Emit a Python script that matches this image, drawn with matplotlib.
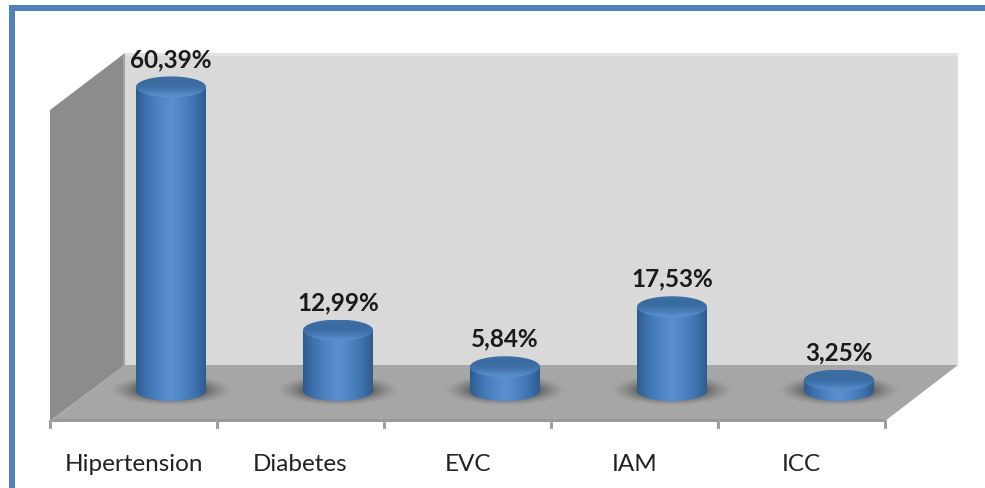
import numpy as np
import matplotlib
matplotlib.use("Agg")
import matplotlib.pyplot as plt
from matplotlib.patches import Polygon, Ellipse, PathPatch
from matplotlib.path import Path
from matplotlib.colors import LinearSegmentedColormap
from matplotlib.transforms import Affine2D

categories = ["Hipertension", "Diabetes", "EVC", "IAM", "ICC"]
values = [60.39, 12.99, 5.84, 17.53, 3.25]
value_labels = ["60,39%", "12,99%", "5,84%", "17,53%", "3,25%"]

W, H = 985, 489
# pixels per category / per percent
XSTEP = 167.0
YSCALE = 5.13
X0 = 171.0
Y0 = 397.7

plt.rcParams["font.family"] = ["Lato", "DejaVu Sans"]

fig = plt.figure(figsize=(W / 100, H / 100), dpi=100, facecolor="white")
ax = fig.add_axes([0, 0, 1, 1])
ax.set_axis_off()

# pixel coords, y going down, for the box around the plot
pix = Affine2D().scale(1, -1).translate(0, H)

def box(pts, color, z=1):
    ax.add_patch(Polygon(pts, closed=True, fc=color, ec="none", transform=pix, zorder=z))

# frame on the left and top
box([(9, 6), (985, 6), (985, 12), (15, 12), (15, 489), (9, 489)], "#4f81bd", 1)

# walls and floor
box([(125, 54), (958, 54), (958, 366), (125, 366)], "#d9d9d9")
box([(50, 111), (125, 54), (125, 366), (50, 422)], "#8c8c8c")
box([(125, 366), (958, 366), (885, 422), (50, 422)], "#a6a6a6")
box([(123, 56), (125, 54), (125, 366), (123, 368)], "#a3a3a3")
box([(125, 54), (958, 54), (958, 57), (125, 57)], "#e2e2e2")
box([(50, 420), (885, 420), (885, 423), (50, 423)], "#9a9a9a")

# tick marks under the floor
for k in range(len(categories) + 1):
    tx = 50 + XSTEP * k
    box([(tx - 1.5, 421), (tx + 1.5, 421), (tx + 1.5, 430), (tx - 1.5, 430)], "#a0a0a0")

side_cmap = LinearSegmentedColormap.from_list(
    "side", ["#2f5c8e", "#3f74b0", "#4f85c4", "#5a90cf", "#4f85c4", "#3f74b0", "#2f5c8e"])
top_cmap = LinearSegmentedColormap.from_list(
    "top", ["#5b94d2", "#4a7fbb", "#3d6ea6", "#3a6a9f", "#3f70a8"])

hw = 35.0 / XSTEP          # half bar width in category units
eh_top = 10.5 / YSCALE     # half ellipse height, in percent
eh_base = 10.0 / YSCALE
base = (Y0 - 392.0) / YSCALE

xx, yy = np.meshgrid(np.linspace(-1, 1, 120), np.linspace(-1, 1, 60))
blur = np.exp(-(xx**2 + yy**2) * 2.6)

for i, v in enumerate(values):
    # shadow on the floor
    rgba = np.zeros(blur.shape + (4,))
    rgba[..., :3] = 0.25
    rgba[..., 3] = np.clip(blur * 1.7 - 0.14, 0, 0.9)
    ax.imshow(rgba, extent=(i - 1.8 * hw, i + 1.8 * hw, base - 3.0, base + 3.2),
              aspect="auto", interpolation="bilinear", zorder=2, origin="lower")

    # cylinder side
    k = 0.5523
    verts = [(i - hw, v), (i - hw, base), (i - hw, base - k * eh_base),
             (i - k * hw, base - eh_base), (i, base - eh_base),
             (i + k * hw, base - eh_base), (i + hw, base - k * eh_base), (i + hw, base),
             (i + hw, v), (i - hw, v)]
    codes = [Path.MOVETO, Path.LINETO, Path.CURVE4, Path.CURVE4, Path.CURVE4,
             Path.CURVE4, Path.CURVE4, Path.CURVE4, Path.LINETO, Path.CLOSEPOLY]
    clip = PathPatch(Path(verts, codes), fc="none", ec="none", transform=ax.transData)
    ax.add_patch(clip)
    im = ax.imshow(np.linspace(0, 1, 128).reshape(1, -1), cmap=side_cmap, aspect="auto",
                   extent=(i - hw, i + hw, base - eh_base, v), zorder=3)
    im.set_clip_path(clip)

    # cylinder top, lit along the front rim
    cap = Ellipse((i, v), 2 * hw, 2 * eh_top, fc="none", ec="none", transform=ax.transData)
    ax.add_patch(cap)
    grad = ax.imshow(np.linspace(0, 1, 64).reshape(-1, 1), cmap=top_cmap, aspect="auto",
                     origin="lower", extent=(i - hw, i + hw, v - eh_top, v + eh_top), zorder=4)
    grad.set_clip_path(cap)

    ax.annotate(value_labels[i], (i, v), xytext=(0, 20.5), textcoords="offset points",
                ha="center", va="center", fontsize=17.5, fontweight="bold",
                color="#1a1a1a", zorder=6)
    ax.annotate(categories[i], (i, 0), xytext=(-27, -48), textcoords="offset points",
                ha="center", va="center", fontsize=17.5, color="#222222", zorder=6,
                annotation_clip=False)

ax.set_xlim(-X0 / XSTEP, (W - X0) / XSTEP)
ax.set_ylim((Y0 - H) / YSCALE, Y0 / YSCALE)

fig.savefig("out.png", dpi=100)
